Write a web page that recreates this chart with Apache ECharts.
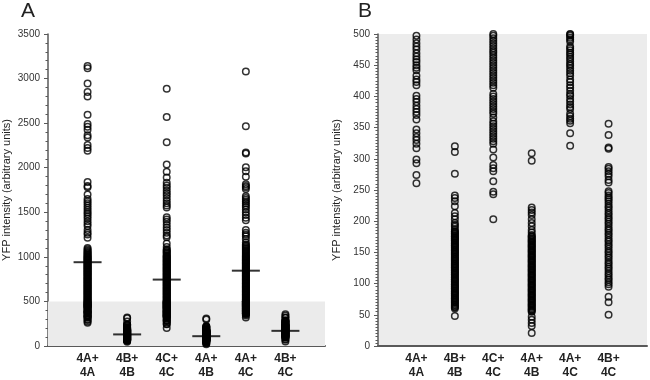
<!DOCTYPE html>
<html>
<head>
<meta charset="utf-8">
<script src="https://cdn.jsdelivr.net/npm/echarts@6/dist/echarts.min.js"></script>
<style>
  html, body { margin: 0; padding: 0; background: #fff; }
  #chart { width: 650px; height: 380px; }
</style>
</head>
<body>
<div id="chart"></div>
<script>
// groups along the x axis (two-line labels)
const groups = ['4A+\n4A', '4B+\n4B', '4C+\n4C', '4A+\n4B', '4A+\n4C', '4B+\n4C'];

// YFP intensity of each cell (arbitrary units)
const g4A_4A = [3140, 3115, 2945, 2850, 2800, 2595, 2490, 2460, 2425, 2365, 2340, 2255, 2220, 2190,
  1840, 1795, 1780, 1700, 1650, 1625, 1600, 1575, 1550, 1525, 1500, 1480, 1455, 1430, 1400, 1370,
  1345, 1300, 1270, 1250, 1215, 1100, 1085, 1072, 1060, 1050, 1040, 1030, 1020,
  1010, 1002, 995, 987, 980, 971, 964, 955, 948, 940, 931, 924, 916, 907, 900, 892, 884, 876, 869,
  860, 853, 845, 837, 829, 822, 813, 806, 798, 790, 782, 774, 767, 758, 751, 743, 735, 727, 719,
  712, 703, 696, 688, 680, 672, 665, 656, 649, 641, 633, 625, 618, 609, 602, 594, 586, 578, 571,
  562, 555, 547, 539, 531, 524, 516, 508, 502,
  497, 491, 485, 480, 475, 469, 464, 459, 455, 450, 446, 442, 433, 427, 423, 418, 401, 396, 391,
  385, 380, 375, 370, 363, 347, 341, 335, 330, 324, 317, 299, 293, 274, 261];

const g4B_4B = [320, 311, 276, 241, 237, 232, 224, 213, 208, 203, 197, 194, 191, 187,
  184, 183, 181, 180, 178, 176, 175, 173, 172, 170, 169, 167, 165, 164, 162, 161, 159, 158, 156,
  154, 153, 151, 150, 148, 147, 145, 143, 142, 140, 139, 137, 136, 134, 132, 131, 129, 128, 126,
  125, 123, 121, 120, 118, 117, 115, 114, 112, 110, 109, 107, 106, 104, 103, 101, 99, 98, 96, 95,
  93, 92, 90, 88, 87, 85, 84, 82, 81, 79, 77, 76, 74, 73, 71, 70, 68, 66, 65, 63, 62, 60, 48];

const g4C_4C = [2885, 2570, 2285, 2035, 1955, 1890, 1830, 1800, 1775, 1745, 1715, 1690, 1660, 1630,
  1600, 1575, 1555, 1445, 1420, 1395, 1360, 1330, 1300, 1270, 1240, 1220, 1150, 1110, 1085, 1075,
  1065, 1055, 1045, 1035, 1020,
  1012, 1004, 997, 989, 981, 973, 966, 957, 950, 942, 934, 926, 918, 911, 902, 895, 887, 879, 871,
  863, 856, 848, 840, 832, 824, 817, 808, 801, 793, 785, 777, 769, 762, 754, 746, 738, 730, 722,
  715, 707, 699, 691, 683, 676, 668, 660, 652, 644, 636, 629, 621, 613, 605, 597, 590, 582, 574,
  566, 558, 551, 543, 535, 527, 519, 511, 504,
  500, 497, 493, 489, 485, 481, 477, 473, 470, 466, 462, 458, 454, 450, 446, 442, 438, 434, 430,
  426, 422, 418, 414, 404, 400, 396, 392, 388, 384, 380, 376, 372, 366, 360, 356, 352, 348, 344,
  340, 336, 332, 328, 324, 315, 302, 290, 285, 280, 264, 247, 243, 203];

const g4A_4B = [309, 297, 222, 218, 214, 210, 203, 197, 192, 186, 182,
  178, 176, 175, 173, 171, 170, 168, 167, 165, 163, 162, 160, 159, 157, 155, 154, 152, 151, 149,
  147, 146, 144, 143, 141, 139, 138, 136, 135, 133, 131, 130, 128, 127, 125, 123, 122, 120, 119,
  117, 115, 114, 112, 111, 109, 107, 106, 104, 103, 101, 99, 98, 96, 95, 93, 91, 90, 88, 87, 85,
  83, 82, 80, 79, 77, 75, 74, 72, 71, 69, 67, 66, 64, 63, 61, 59, 58, 56, 55, 47, 42, 37, 32, 21];

const g4A_4C = [3080, 2465, 2170, 2160, 2005, 1960, 1900, 1815, 1795, 1780, 1760, 1680, 1660, 1640,
  1620, 1600, 1580, 1560, 1530, 1500, 1470, 1440, 1410, 1300, 1270, 1250, 1230, 1200, 1160, 1140,
  1128, 1117, 1105, 1094, 1082, 1071, 1060, 1049, 1038, 1027, 1016,
  1006, 998, 990, 982, 974, 966, 958, 950, 943, 935, 927, 919, 911, 903, 895, 887, 879, 871, 863,
  856, 848, 840, 832, 824, 816, 808, 800, 792, 784, 777, 769, 761, 753, 745, 737, 729, 721, 713,
  705, 697, 690, 682, 674, 666, 658, 650, 642, 634, 626, 618, 610, 603, 595, 587, 579, 571, 563,
  555, 547, 539, 531, 523, 516, 508, 502,
  500, 499, 497, 494, 491, 488, 480, 477, 474, 470, 467, 463, 460, 456, 452, 449, 445, 441, 437,
  433, 427, 423, 418, 414, 409, 404, 401, 396, 392, 387, 383, 380, 372, 368, 364, 361, 357, 341, 321];

const g4B_4C = [356, 338, 318, 316, 287, 284, 280, 276, 272, 266, 262, 248, 245, 241, 238, 235, 232,
  228, 224, 221, 217, 213, 210, 206, 203, 199, 196, 192, 188, 185, 181, 178, 174, 170, 167, 163,
  160, 156, 152, 149, 145, 142, 138, 134, 131, 127, 124, 120, 116, 113, 109, 106, 102, 99, 95,
  79, 70, 50];

const allGroups = [g4A_4A, g4B_4B, g4C_4C, g4A_4B, g4A_4C, g4B_4C];

// group means (horizontal bars in panel A)
const means = [940, 130, 745, 110, 845, 170];

const yName = 'YFP intensity (arbitrary units)';
const zoomMax = 500;

let chart = echarts.init(document.getElementById('chart'));

function toPoints(vals, x, maxV) {
    return vals.filter(v => maxV === undefined || v <= maxV).map(v => [x, v]);
}

function xAxisFor(idx) {
    return {
        gridIndex: idx,
        type: 'value',
        min: 0,
        max: 7,
        interval: 1,
        splitLine: { show: false },
        axisTick: { show: false },
        axisLine: { lineStyle: { color: '#595959', width: 2 } },
        axisLabel: {
            formatter: v => groups[v - 1] || '',
            fontFamily: 'Liberation Sans',
            fontWeight: 'bold',
            fontSize: 12,
            lineHeight: 14,
            color: '#222',
            margin: 6
        }
    };
}

function yAxisFor(idx, max, interval, minorSplit) {
    return {
        gridIndex: idx,
        type: 'value',
        min: 0,
        max: max,
        interval: interval,
        name: yName,
        nameLocation: 'middle',
        nameGap: 36,
        nameTextStyle: { fontFamily: 'Liberation Sans', fontSize: 11, color: '#222' },
        splitLine: { show: false },
        axisLine: { show: true, lineStyle: { color: '#595959', width: 1.5 } },
        axisTick: { show: true, length: 4, lineStyle: { color: '#595959' } },
        minorTick: { show: true, splitNumber: minorSplit, length: 2.5, lineStyle: { color: '#595959' } },
        axisLabel: {
            formatter: v => String(v),
            fontFamily: 'Liberation Sans',
            fontSize: 10,
            color: '#333',
            margin: 8
        }
    };
}

// hollow circles, slightly heavy outline like the original
const pointStyle = { color: 'rgba(0,0,0,0)', borderColor: '#000', borderWidth: 1.5 };

let series = [];

// grey band 0-500 in panel A
series.push({
    type: 'scatter',
    xAxisIndex: 0,
    yAxisIndex: 0,
    data: [],
    z: 1,
    silent: true,
    markArea: {
        silent: true,
        itemStyle: { color: '#ebebeb' },
        data: [[{ yAxis: 0 }, { yAxis: zoomMax }]]
    }
});

allGroups.forEach((vals, i) => {
    series.push({
        type: 'scatter',
        xAxisIndex: 0,
        yAxisIndex: 0,
        symbol: 'circle',
        symbolSize: 6.5,
        itemStyle: pointStyle,
        z: 2,
        data: toPoints(vals, i + 1)
    });
    series.push({
        type: 'scatter',
        xAxisIndex: 1,
        yAxisIndex: 1,
        symbol: 'circle',
        symbolSize: 6.5,
        itemStyle: pointStyle,
        z: 2,
        data: toPoints(vals, i + 1, zoomMax)
    });
});

// mean markers
series.push({
    type: 'scatter',
    xAxisIndex: 0,
    yAxisIndex: 0,
    symbol: 'rect',
    symbolSize: [28, 2],
    itemStyle: { color: '#000' },
    z: 3,
    data: means.map((m, i) => [i + 1, m])
});

let options = {
    animation: false,
    title: [
        { text: 'A', left: 16, top: -4, textStyle: { fontFamily: 'Liberation Sans', fontSize: 21, fontWeight: 'normal', color: '#222' } },
        { text: 'B', left: 353, top: -4, textStyle: { fontFamily: 'Liberation Sans', fontSize: 21, fontWeight: 'normal', color: '#222' } }
    ],
    grid: [
        { left: 45, top: 34, width: 280, height: 315 },
        { left: 378, top: 34, width: 272, height: 315, show: true, backgroundColor: '#ececec', borderWidth: 0 }
    ],
    xAxis: [xAxisFor(0), xAxisFor(1)],
    yAxis: [yAxisFor(0, 3500, 500, 5), yAxisFor(1, 500, 50, 10)],
    series: series
};

chart.setOption(options);
</script>
</body>
</html>
